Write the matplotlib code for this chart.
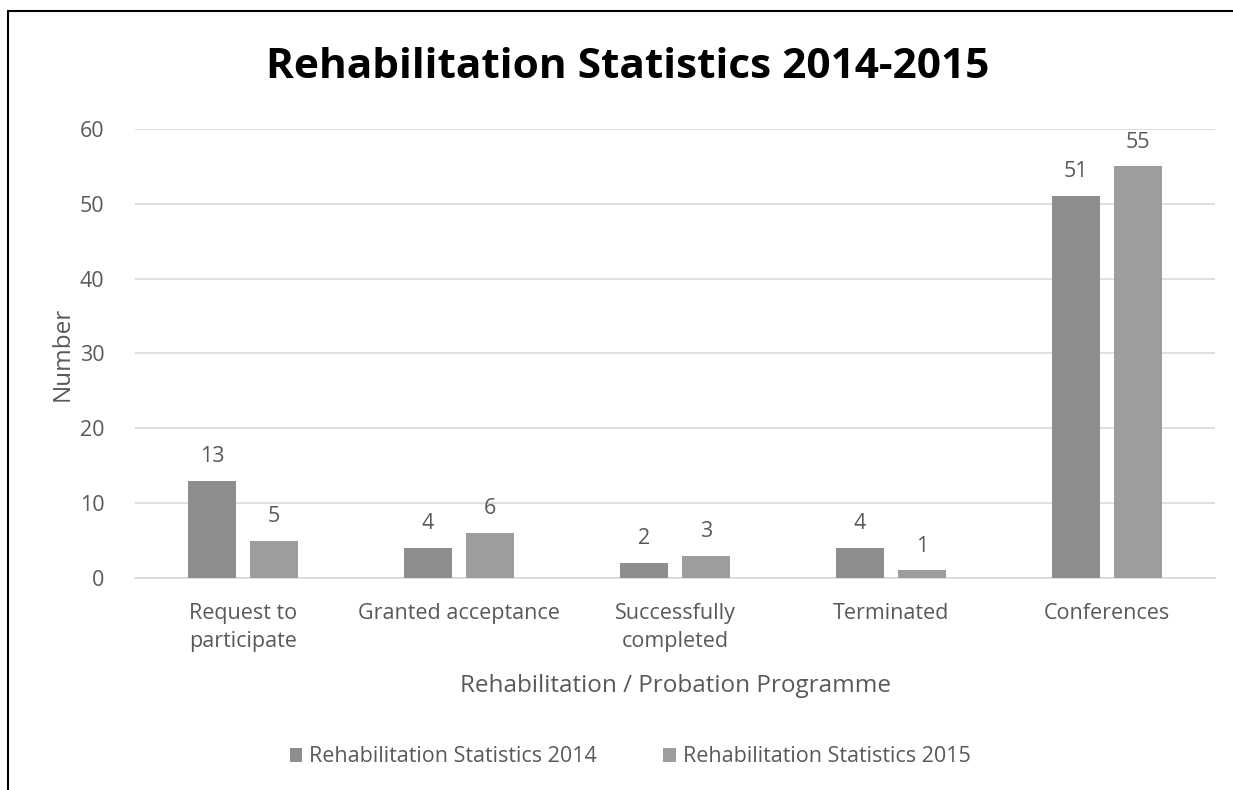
import numpy as np
import matplotlib
matplotlib.use("Agg")
import matplotlib.pyplot as plt
from matplotlib.patches import Rectangle

categories = ["Request to\nparticipate", "Granted acceptance", "Successfully\ncompleted",
              "Terminated", "Conferences"]
series_names = ["Rehabilitation Statistics 2014", "Rehabilitation Statistics 2015"]
values_2014 = [13, 4, 2, 4, 51]
values_2015 = [5, 6, 3, 1, 55]

plt.rcParams["font.family"] = ["Open Sans", "DejaVu Sans"]
text_color = "#595959"
colors = ["#8e8e90", "#9d9d9f"]

fig = plt.figure(figsize=(12.33, 7.9), dpi=100)
ax = fig.add_axes([0.1095, 0.2684, 0.8759, 0.5683])

x = np.arange(len(categories))
width = 0.222
offset = 0.143
bars1 = ax.bar(x - offset, values_2014, width, color=colors[0], label=series_names[0], zorder=3)
bars2 = ax.bar(x + offset, values_2015, width, color=colors[1], label=series_names[1], zorder=3)
for bars in (bars1, bars2):
    ax.bar_label(bars, padding=10, fontsize=15.5, color=text_color)

ax.set_xlim(-0.5, len(categories) - 0.5)
ax.set_ylim(0, 60)
ax.set_yticks(range(0, 61, 10))
ax.set_xticks(x)
ax.set_xticklabels(categories, fontsize=15.5, color=text_color, linespacing=1.45)
ax.tick_params(axis="y", labelsize=15.5, colors=text_color, length=0, pad=22)
ax.tick_params(axis="x", length=0, pad=18)
ax.grid(axis="y", color="#d9d9d9", linewidth=1.2, zorder=0)
for side in ["top", "right", "left"]:
    ax.spines[side].set_visible(False)
ax.spines["bottom"].set_color("#d9d9d9")
ax.spines["bottom"].set_linewidth(1.2)

ax.set_ylabel("Number", fontsize=17.5, color=text_color, labelpad=4)
ax.set_xlabel("Rehabilitation / Probation Programme", fontsize=17.5, color=text_color, labelpad=16)

fig.text(0.509, 0.915, "Rehabilitation Statistics 2014-2015", ha="center", va="center",
         fontsize=30.5, fontweight="bold", color="#000000")

fig.legend(loc="center", bbox_to_anchor=(0.511, 0.042), ncol=2, frameon=False,
           fontsize=15.5, labelcolor=text_color, handlelength=0.6, handleheight=0.6,
           handletextpad=0.3, columnspacing=3.1)

fig.patches.append(Rectangle((0.0065, -0.1), 1.1, 1.086, transform=fig.transFigure,
                             fill=False, edgecolor="#000000", linewidth=1.5))

fig.savefig("out.png", dpi=100)
